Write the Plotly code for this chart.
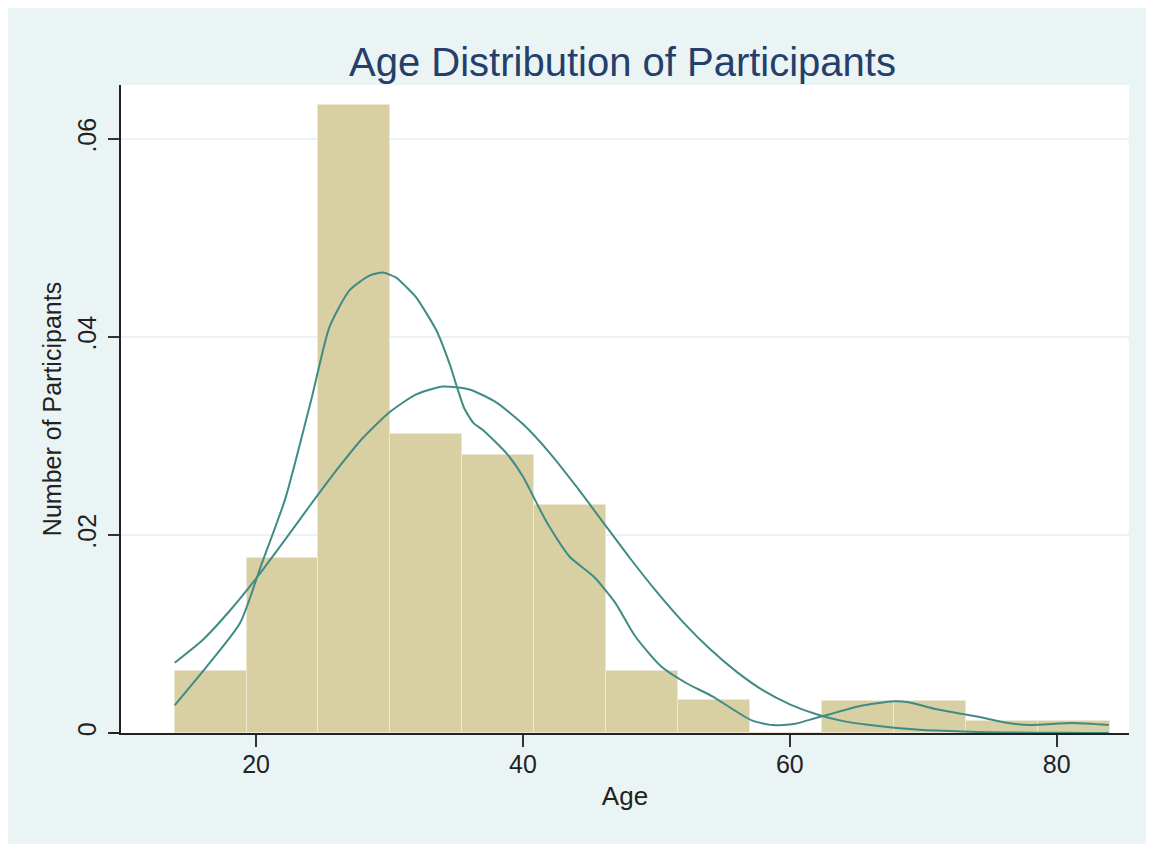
import plotly.graph_objects as go

# ---- Data ----
bin_left = [13.9, 19.29, 24.68, 30.07, 35.46, 40.85, 46.24, 51.63, 57.02, 62.41, 67.8, 73.19, 78.58]
bin_width = 5.39
density = [0.0063, 0.0177, 0.0634, 0.0302, 0.0281, 0.0230, 0.0063, 0.0033, 0.0, 0.0032, 0.0032, 0.0012, 0.0012]

kde_age = [13.9, 16.3, 18.8, 20.4, 22.2, 24.2, 25.5, 27.0, 28.5, 29.5, 30.5, 31.3, 32.0, 33.5, 34.5,
           35.0, 35.6, 36.3, 37.0, 38.8, 40.0, 41.3, 42.0, 43.5, 45.3, 46.9, 48.4, 50.3, 52.3, 54.2,
           57.1, 58.7, 60.3, 61.4, 63.0, 65.2, 67.8, 68.9, 71.0, 72.6, 74.3, 76.4, 78.0, 81.2, 83.9]
kde_val = [0.0028, 0.0067, 0.0111, 0.0170, 0.0237, 0.0340, 0.0410, 0.0447, 0.0462, 0.0465, 0.0460, 0.0450, 0.0440, 0.0407, 0.0373,
           0.0352, 0.0328, 0.0313, 0.0306, 0.0282, 0.0259, 0.0225, 0.0208, 0.0178, 0.0158, 0.0132, 0.0098, 0.0068, 0.0050, 0.0037,
           0.0013, 0.0008, 0.0009, 0.0013, 0.0019, 0.0027, 0.0032, 0.0031, 0.0024, 0.0020, 0.0016, 0.0010, 0.0008, 0.0010, 0.0008]

norm_age = [13.9, 16, 18, 20, 22, 24, 26, 28, 30, 32, 34, 36, 38, 40, 42, 44, 46, 48, 50, 52, 54, 56,
            58, 60, 62, 64, 66, 68, 70, 72, 74, 76, 78, 80, 82, 83.9]
norm_val = [0.0071, 0.0094, 0.0123, 0.0156, 0.0192, 0.0229, 0.0265, 0.0298, 0.0324, 0.0342, 0.0350, 0.0347,
            0.0334, 0.0312, 0.0283, 0.0249, 0.0213, 0.0177, 0.0143, 0.0112, 0.0085, 0.0062, 0.0043, 0.0029,
            0.0019, 0.0012, 0.0008, 0.0005, 0.0003, 0.0002, 0.0001, 0.00005, 0.00003, 0.00002, 0.00001, 0.0]

y_ticks = [0, 0.02, 0.04, 0.06]
y_ticktext = ["0", ".02", ".04", ".06"]
x_ticks = [20, 40, 60, 80]

title_text = "Age Distribution of Participants"
x_title = "Age"
y_title = "Number of Participants"

# ---- Styles ----
BG = "#EBF4F4"
BAR = "#D8CFA3"
CURVE = "#3F8C86"
FONT = "Liberation Sans, Arial, sans-serif"

fig = go.Figure()
fig.add_trace(go.Bar(x=bin_left, y=density, width=bin_width, offset=0,
                     marker=dict(color=BAR, line=dict(color="#EEE8D2", width=1)),
                     showlegend=False, hoverinfo="skip"))
fig.add_trace(go.Scatter(x=kde_age, y=kde_val, mode="lines",
                         line=dict(color=CURVE, width=2, shape="spline", smoothing=0.6),
                         showlegend=False))
fig.add_trace(go.Scatter(x=norm_age, y=norm_val, mode="lines",
                         line=dict(color=CURVE, width=2, shape="spline", smoothing=0.6),
                         showlegend=False))

fig.update_layout(
    width=1146, height=836,
    margin=dict(l=113, r=25, t=77, b=111),
    paper_bgcolor=BG, plot_bgcolor="white",
    font=dict(family=FONT, color="#222222"),
    bargap=0,
    title=dict(text=title_text, x=0.5362, xanchor="center", y=0.9354, yanchor="middle",
               font=dict(size=40, color="#24406A", family=FONT)),
    xaxis=dict(range=[9.88, 85.42], tickvals=x_ticks, ticks="outside", ticklen=12, tickwidth=1.5,
               tickcolor="#333333", showline=True, linecolor="#222222", linewidth=2,
               showgrid=False, zeroline=False, tickfont=dict(size=25, color="#222222"),
               ticklabelstandoff=-4,
               title=dict(text=x_title, font=dict(size=26, color="#222222"), standoff=10)),
    yaxis=dict(range=[0, 0.06545], tickvals=y_ticks, ticktext=y_ticktext, tickangle=-90,
               ticks="outside", ticklen=11, tickwidth=1.5, tickcolor="#333333",
               showline=True, linecolor="#222222", linewidth=2,
               showgrid=True, gridcolor="#EAF2F3", gridwidth=2, zeroline=False,
               tickfont=dict(size=25, color="#222222"), ticklabelstandoff=2,
               title=dict(text=y_title, font=dict(size=25, color="#222222"), standoff=4)),
    shapes=[
        # x-axis line extends slightly left of the y-axis
        dict(type="line", xref="paper", yref="paper", x0=-0.011, x1=0.0, y0=0, y1=0,
             line=dict(color="#222222", width=2)),
    ],
)

fig.write_html("out.html", config={"displayModeBar": False})
